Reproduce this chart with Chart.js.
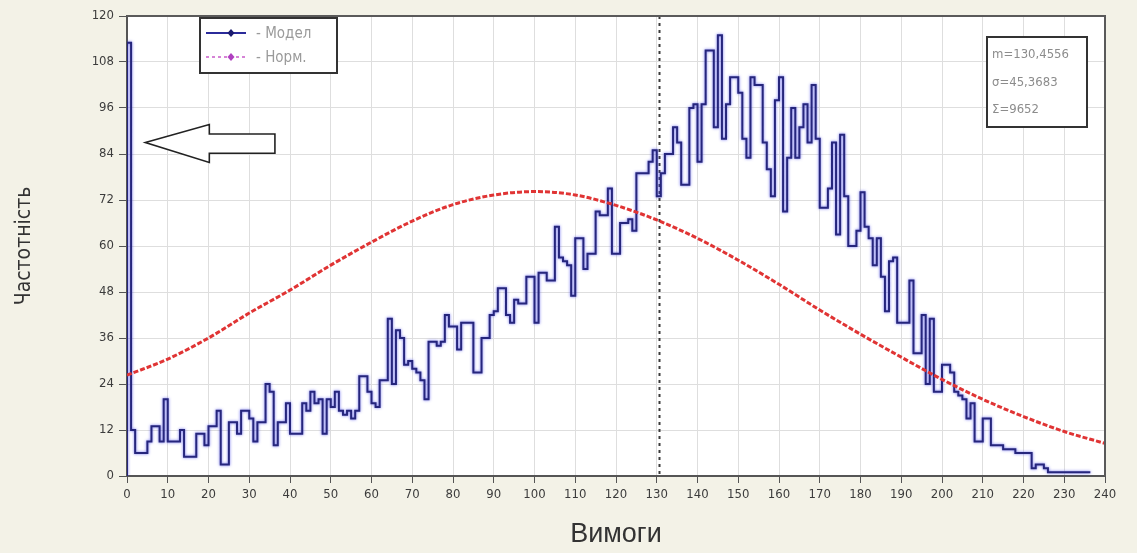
<!DOCTYPE html>
<html>
<head>
<meta charset="utf-8">
<script src="https://cdn.jsdelivr.net/npm/chart.js@4.4.1/dist/chart.umd.min.js"></script>
<style>
  html, body { margin: 0; padding: 0; background: #f3f2e7; }
  #wrap { width: 1137px; height: 553px; }
</style>
</head>
<body>
<div id="wrap"><canvas id="c" width="1137" height="553"></canvas></div>
<script>
// Модельна частота попиту: одне значення на кожен одиничний інтервал, починаючи з 0
const binStart = 0;
const modelFreq = [
  113, 12, 6, 6, 6, 9, 13, 13, 9, 20,
  9, 9, 9, 12, 5, 5, 5, 11, 11, 8,
  13, 13, 17, 3, 3, 14, 14, 11, 17, 17,
  15, 9, 14, 14, 24, 22, 8, 14, 14, 19,
  11, 11, 11, 19, 17, 22, 19, 20, 11, 20,
  18, 22, 17, 16, 17, 15, 17, 26, 26, 22,
  19, 18, 25, 25, 41, 24, 38, 36, 29, 30,
  28, 27, 25, 20, 35, 35, 34, 35, 42, 39,
  39, 33, 40, 40, 40, 27, 27, 36, 36, 42,
  43, 49, 49, 42, 40, 46, 45, 45, 52, 52,
  40, 53, 53, 51, 51, 65, 57, 56, 55, 47,
  62, 62, 54, 58, 58, 69, 68, 68, 75, 58,
  58, 66, 66, 67, 64, 79, 79, 79, 82, 85,
  73, 79, 84, 84, 91, 87, 76, 76, 96, 97,
  82, 97, 111, 111, 91, 115, 88, 97, 104, 104,
  100, 88, 83, 104, 102, 102, 87, 80, 73, 98,
  104, 69, 83, 96, 83, 91, 97, 87, 102, 88,
  70, 70, 75, 87, 63, 89, 73, 60, 60, 64,
  74, 65, 62, 55, 62, 52, 43, 56, 57, 40,
  40, 40, 51, 32, 32, 42, 24, 41, 22, 22,
  29, 29, 27, 22, 21, 20, 15, 19, 9, 9,
  15, 15, 8, 8, 8, 7, 7, 7, 6, 6,
  6, 6, 2, 3, 3, 2, 1, 1, 1, 1,
  1, 1, 1, 1, 1, 1, 1
];

// Нормальний розподіл, значення через кожні 10 одиниць
const normX    = [0, 10, 20, 30, 40, 50, 60, 70, 80, 90, 100, 110, 120, 130, 140, 150, 160, 170, 180, 190, 200, 210, 220, 230, 240];
const normFreq = [26.3, 30.5, 36, 42.5, 48.5, 55, 61, 66.5, 70.8, 73.3, 74.2, 73.3, 70.6, 66.8, 62, 56.3, 50, 43.3, 37, 31, 25.2, 20, 15.5, 11.6, 8.5];

// Осі
const xRange = [0, 240];
const xStep = 10;
const yRange = [0, 120];
const yStep = 12;

// Підписи
const seriesLabels = ['- Модел', '- Норм.'];
const axisTitles = { x: 'Вимоги', y: 'Частотність' };
const meanValue = 130.4556;
const statLines = ['m=130,4556', 'σ=45,3683', 'Σ=9652'];

const NARROW = "'Liberation Sans Narrow', 'DejaVu Sans Condensed', Arial, sans-serif";

// Точки ступінчастої лінії: починаємо з нуля на лівій межі першого інтервалу
const modelPoints = [{ x: binStart, y: 0 }];
modelFreq.forEach((v, i) => modelPoints.push({ x: binStart + i, y: v }));
modelPoints.push({ x: binStart + modelFreq.length - 0.6, y: modelFreq[modelFreq.length - 1] });

const normPoints = normX.map((x, i) => ({ x, y: normFreq[i] }));

const decor = {
  id: 'decor',
  beforeDraw(chart) {
    const { ctx, chartArea: a } = chart;
    ctx.save();
    ctx.fillStyle = '#f3f2e7';
    ctx.fillRect(0, 0, chart.width, chart.height);
    ctx.fillStyle = '#ffffff';
    ctx.fillRect(a.left, a.top, a.right - a.left, a.bottom - a.top);
    ctx.restore();
  },
  beforeDatasetsDraw(chart) {
    const { ctx, chartArea: a, scales: { x } } = chart;
    const mx = Math.round(x.getPixelForValue(meanValue)) + 0.5;
    ctx.save();
    ctx.strokeStyle = '#3a3a3a';
    ctx.lineWidth = 2;
    ctx.setLineDash([3, 4]);
    ctx.beginPath();
    ctx.moveTo(mx, a.top);
    ctx.lineTo(mx, a.bottom);
    ctx.stroke();
    ctx.restore();
  },
  // синюватий ореол навколо ступінчастої лінії
  beforeDatasetDraw(chart, args) {
    if (args.index === 0) {
      chart.ctx.save();
      chart.ctx.shadowColor = 'rgba(60, 60, 235, 0.75)';
      chart.ctx.shadowBlur = 3;
    }
  },
  afterDatasetDraw(chart, args) {
    if (args.index === 0) chart.ctx.restore();
  },
  afterDraw(chart) {
    const { ctx, chartArea: a, scales: { x, y } } = chart;
    ctx.save();

    // рамка зверху та справа
    ctx.strokeStyle = '#5a5a5a';
    ctx.lineWidth = 2;
    ctx.beginPath();
    ctx.moveTo(a.left, a.top);
    ctx.lineTo(a.right, a.top);
    ctx.lineTo(a.right, a.bottom);
    ctx.stroke();

    // стрілка, що вказує на пік біля нуля
    const px = v => x.getPixelForValue(v);
    const py = v => y.getPixelForValue(v);
    ctx.beginPath();
    ctx.moveTo(px(4.5), py(87));
    ctx.lineTo(px(20.2), py(91.7));
    ctx.lineTo(px(20.2), py(89.2));
    ctx.lineTo(px(36.3), py(89.2));
    ctx.lineTo(px(36.3), py(84.2));
    ctx.lineTo(px(20.2), py(84.2));
    ctx.lineTo(px(20.2), py(81.8));
    ctx.closePath();
    ctx.fillStyle = '#ffffff';
    ctx.fill();
    ctx.strokeStyle = '#222';
    ctx.lineWidth = 1.6;
    ctx.stroke();

    // легенда
    const lx = a.left + 73, ly = a.top + 2, lw = 137, lh = 55;
    ctx.fillStyle = '#ffffff';
    ctx.fillRect(lx, ly, lw, lh);
    ctx.strokeStyle = '#333';
    ctx.lineWidth = 2;
    ctx.strokeRect(lx, ly, lw, lh);
    const rows = [
      { y: ly + 15, color: '#2b2b9a', marker: '#1c1c70', dash: [] },
      { y: ly + 39, color: '#d684d6', marker: '#b040c0', dash: [3, 3] }
    ];
    rows.forEach((r, i) => {
      ctx.strokeStyle = r.color;
      ctx.lineWidth = 2;
      ctx.setLineDash(r.dash);
      ctx.beginPath();
      ctx.moveTo(lx + 6, r.y);
      ctx.lineTo(lx + 46, r.y);
      ctx.stroke();
      ctx.setLineDash([]);
      ctx.fillStyle = r.marker;
      const cx = lx + 31;
      ctx.beginPath();
      ctx.moveTo(cx, r.y - 4);
      ctx.lineTo(cx + 3.5, r.y);
      ctx.lineTo(cx, r.y + 4);
      ctx.lineTo(cx - 3.5, r.y);
      ctx.closePath();
      ctx.fill();
      ctx.fillStyle = '#9a9a9a';
      ctx.font = '15px ' + NARROW;
      ctx.textBaseline = 'middle';
      ctx.textAlign = 'left';
      ctx.fillText(seriesLabels[i], lx + 56, r.y + 1);
    });

    // статистика
    const sx = a.right - 118, sy = a.top + 21, sw = 100, sh = 90;
    ctx.fillStyle = '#ffffff';
    ctx.fillRect(sx, sy, sw, sh);
    ctx.strokeStyle = '#333';
    ctx.lineWidth = 2;
    ctx.strokeRect(sx, sy, sw, sh);
    ctx.fillStyle = '#8c8c8c';
    ctx.font = '13px ' + NARROW;
    ctx.textBaseline = 'middle';
    statLines.forEach((t, i) => ctx.fillText(t, sx + 5, sy + 18 + i * 27.5));

    ctx.restore();
  }
};

new Chart(document.getElementById('c'), {
  type: 'line',
  data: {
    datasets: [
      {
        label: seriesLabels[0],
        data: modelPoints,
        stepped: true,
        borderColor: '#26267c',
        borderWidth: 2,
        pointRadius: 0,
        fill: false,
        order: 1
      },
      {
        label: seriesLabels[1],
        data: normPoints,
        borderColor: '#e03434',
        borderWidth: 3,
        borderDash: [5, 2],
        pointRadius: 0,
        cubicInterpolationMode: 'monotone',
        fill: false,
        order: 0
      }
    ]
  },
  options: {
    responsive: false,
    animation: false,
    devicePixelRatio: 1,
    layout: { padding: { left: 0, right: 32, top: 16, bottom: 0 } },
    plugins: { legend: { display: false }, tooltip: { enabled: false } },
    scales: {
      x: {
        type: 'linear',
        min: xRange[0],
        max: xRange[1],
        ticks: {
          stepSize: xStep,
          autoSkip: false,
          maxRotation: 0,
          color: '#3c3c3c',
          padding: 4,
          font: { family: NARROW, size: 13 }
        },
        grid: { color: '#dedede', tickColor: '#555', tickLength: 7 },
        border: { color: '#555', width: 2 },
        title: {
          display: true,
          text: axisTitles.x,
          color: '#333',
          font: { family: "'Liberation Sans', Arial, sans-serif", size: 27 },
          padding: { top: 0, bottom: 2 }
        },
        afterFit(s) { s.height = 77; }
      },
      y: {
        type: 'linear',
        min: yRange[0],
        max: yRange[1],
        ticks: {
          stepSize: yStep,
          color: '#3c3c3c',
          padding: 5,
          font: { family: NARROW, size: 13 }
        },
        grid: { color: '#dedede', tickColor: '#555', tickLength: 8 },
        border: { color: '#555', width: 2 },
        title: {
          display: true,
          text: axisTitles.y,
          color: '#333',
          font: { family: NARROW, size: 21 },
          padding: { top: 12, bottom: 0 }
        },
        afterFit(s) { s.width = 127; }
      }
    }
  },
  plugins: [decor]
});
</script>
</body>
</html>
